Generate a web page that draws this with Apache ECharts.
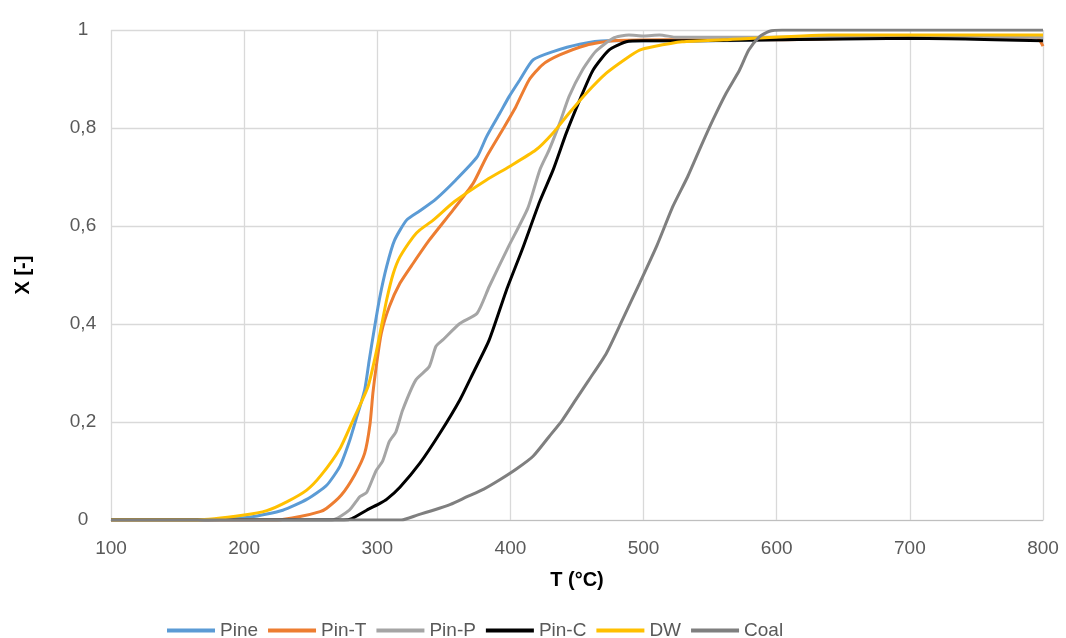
<!DOCTYPE html>
<html>
<head>
<meta charset="utf-8">
<script src="https://cdn.jsdelivr.net/npm/echarts@6/dist/echarts.min.js"></script>
<style>
html,body{margin:0;padding:0;background:#fff;}
#chart{width:1066px;height:638px;}
</style>
</head>
<body>
<div id="chart"></div>
<script>
// ---- data (temperature °C, conversion X) ----
var seriesNames = ['Pine', 'Pin-T', 'Pin-P', 'Pin-C', 'DW', 'Coal'];
var xTicks = [100, 200, 300, 400, 500, 600, 700, 800];
var yTicks = [0, 0.2, 0.4, 0.6, 0.8, 1];

var pineT = [100,170,205,229,247,262,272,279,284,290.5,294,298,302,307,313,322,332,344,359,375,382,392,399,407,417,432,452,472,500,550,600,700,800];
var pineX = [0,0,0.006,0.02,0.042,0.071,0.11,0.16,0.205,0.265,0.327,0.394,0.456,0.517,0.571,0.612,0.631,0.655,0.694,0.741,0.782,0.83,0.864,0.898,0.939,0.956,0.971,0.978,0.978,0.978,0.98,0.985,0.985];

var pinTT = [100,225,242,257,262,273,283,290.5,294.5,296.7,299.2,303,309,317,327,339,357,372,382,394,404,414,424,437,457,477,520,600,700,795,800];
var pinTX = [0,0,0.007,0.017,0.024,0.051,0.092,0.136,0.195,0.259,0.313,0.381,0.435,0.483,0.524,0.571,0.633,0.687,0.741,0.796,0.843,0.898,0.929,0.949,0.969,0.978,0.98,0.98,0.985,0.985,0.967];

var pinPT = [100,266,279,287,292,299,304,309,314,319,329,339,344,349,362,375,384,398,413,422,429,437,444,454,464,477,489,500,512,525,800];
var pinPX = [0,0,0.02,0.048,0.056,0.1,0.12,0.16,0.18,0.224,0.286,0.313,0.354,0.367,0.401,0.422,0.476,0.555,0.636,0.714,0.755,0.81,0.864,0.918,0.956,0.983,0.99,0.988,0.99,0.985,0.985];

var pinCT = [100,275,281,292,302,307,317,332,347,362,372,384,397,409,422,432,442,452,462,474,487,500,540,600,700,800];
var pinCX = [0,0,0.003,0.02,0.034,0.042,0.067,0.116,0.177,0.245,0.3,0.367,0.469,0.553,0.65,0.714,0.79,0.857,0.918,0.959,0.976,0.978,0.978,0.98,0.983,0.978];

var dwT = [100,165,200,217,232,247,258,272,282,293,299,303,307,312,317,327,332,342,358,382,399,419,432,444,457,472,487,497,507,529,560,640,800];
var dwX = [0,0,0.01,0.019,0.037,0.061,0.092,0.146,0.205,0.272,0.34,0.394,0.449,0.503,0.537,0.578,0.592,0.612,0.65,0.694,0.721,0.755,0.79,0.83,0.871,0.912,0.942,0.959,0.966,0.976,0.98,0.99,0.99];

var coalT = [100,318,330,342,355,367,380,392,405,417,429,439,449,459,472,484,497,510,522,533,543,552,562,572,579,587,594,604,800];
var coalX = [0,0,0.01,0.02,0.032,0.047,0.063,0.082,0.105,0.13,0.17,0.204,0.245,0.286,0.34,0.408,0.483,0.56,0.64,0.70,0.762,0.816,0.871,0.918,0.959,0.986,0.997,1,1];

var colors = ['#5B9BD5', '#ED7D31', '#A5A5A5', '#000000', '#FFC000', '#7F7F7F'];
var allT = [pineT, pinTT, pinPT, pinCT, dwT, coalT];
var allX = [pineX, pinTX, pinPX, pinCX, dwX, coalX];

function zip(a, b) { return a.map(function (v, i) { return [v, b[i]]; }); }

var series = seriesNames.map(function (name, i) {
  return {
    name: name,
    type: 'line',
    data: zip(allT[i], allX[i]),
    showSymbol: false,
    smooth: 0.2,
    lineStyle: { color: colors[i], width: 3 },
    itemStyle: { color: colors[i] },
    z: 2 + i
  };
});

var font = 'Liberation Sans, Arial, sans-serif';
var chart = echarts.init(document.getElementById('chart'), null, { renderer: 'canvas' });
chart.setOption({
  animation: false,
  backgroundColor: '#ffffff',
  grid: { left: 111, right: 23, top: 30, bottom: 118, containLabel: false },
  xAxis: {
    type: 'value',
    min: xTicks[0], max: xTicks[xTicks.length - 1], interval: 100,
    name: 'T (°C)', nameLocation: 'middle', nameGap: 50,
    nameTextStyle: { fontFamily: font, fontWeight: 'bold', fontSize: 20, color: '#000' },
    axisLine: { show: true, lineStyle: { color: '#BFBFBF', width: 1 } },
    axisTick: { show: false },
    axisLabel: { margin: 19, fontFamily: font, fontSize: 19, color: '#595959' },
    splitLine: { show: true, lineStyle: { color: '#D9D9D9', width: 1.3 } }
  },
  yAxis: {
    type: 'value',
    min: yTicks[0], max: yTicks[yTicks.length - 1], interval: 0.2,
    name: 'X [-]', nameLocation: 'middle', nameGap: 78, nameRotate: 90,
    nameTextStyle: { fontFamily: font, fontWeight: 'bold', fontSize: 20, color: '#000' },
    axisLine: { show: false },
    axisTick: { show: false },
    axisLabel: {
      margin: 28, align: 'center', fontFamily: font, fontSize: 19, color: '#595959',
      formatter: function (v) { return String(Math.round(v * 10) / 10).replace('.', ','); }
    },
    splitLine: { show: true, lineStyle: { color: '#D9D9D9', width: 1.3 } }
  },
  legend: {
    data: seriesNames,
    left: 162, top: 616,
    icon: 'rect', itemWidth: 48, itemHeight: 4, itemGap: 10,
    textStyle: { fontFamily: font, fontSize: 19, color: '#595959', padding: [0, 0, 0, 0] }
  },
  series: series
});
</script>
</body>
</html>
